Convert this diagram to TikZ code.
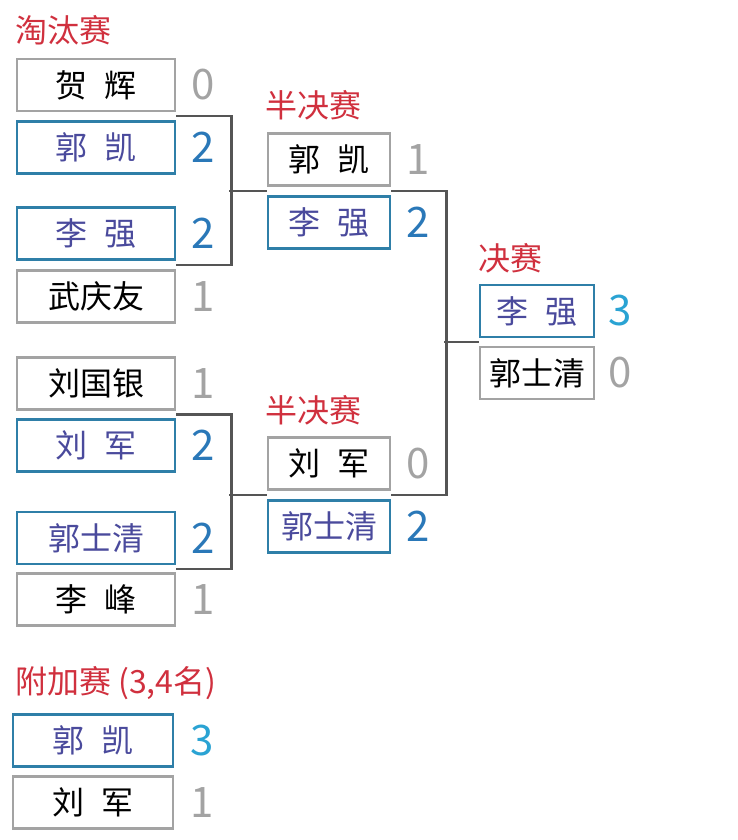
\documentclass[tikz,border=0pt]{standalone}
\usepackage{fontspec}
\setmainfont{Noto Sans CJK SC}
\usetikzlibrary{calc}

\definecolor{losegray}{HTML}{A3A3A3}
\definecolor{winblue}{HTML}{2F7FA8}
\definecolor{winname}{HTML}{4A4A9C}
\definecolor{scoreblue}{HTML}{2A78B8}
\definecolor{champblue}{HTML}{2AA3D3}
\definecolor{roundred}{HTML}{D0303E}
\definecolor{linegray}{HTML}{555555}

\newcommand{\gap}{\hspace{0.55em}}

\begin{document}
\begin{tikzpicture}
  [x=1pt,y=-1pt,
   every node/.style={inner sep=0pt,font=\fontsize{32}{33}\selectfont},
   player/.style={draw,line width=2.5pt,minimum height=52pt},
   lose/.style={player,draw=losegray,text=black},
   win/.style={player,draw=winblue,text=winname},
   score/.style={font=\fontsize{42}{42}\selectfont,text=losegray},
   wscore/.style={score,text=scoreblue},
   roundname/.style={anchor=west,text=roundred},
   bracket/.style={draw=linegray,line width=2.5pt}]
  \useasboundingbox (0,0) rectangle (737,840);

  % first round
  \node[roundname] (r1) at (15,30) {淘汰赛};
  \node[lose,minimum width=158pt] (he)   at (96,85)    {贺\gap 辉};
  \node[win, minimum width=158pt] (guo1) at (96,147.5) {郭\gap 凯};
  \node[win, minimum width=158pt] (li1)  at (96,233.5) {李\gap 强};
  \node[lose,minimum width=158pt] (wu)   at (96,296.5) {武庆友};
  \node[lose,minimum width=158pt] (liug) at (96,383.5) {刘国银};
  \node[win, minimum width=158pt] (liu1) at (96,445.5) {刘\gap 军};
  \node[win, minimum width=158pt] (gsq1) at (96,538)   {郭士清};
  \node[lose,minimum width=158pt] (lif)  at (96,599.5) {李\gap 峰};
  \node[score]  (he-s)   at (203,85)    {0};
  \node[wscore] (guo1-s) at (203,147.5) {2};
  \node[wscore] (li1-s)  at (203,233.5) {2};
  \node[score]  (wu-s)   at (203,296.5) {1};
  \node[score]  (liug-s) at (203,383.5) {1};
  \node[wscore] (liu1-s) at (203,445.5) {2};
  \node[wscore] (gsq1-s) at (203,538)   {2};
  \node[score]  (lif-s)  at (203,599.5) {1};

  % semifinals
  \node[roundname] (r2) at (265,105) {半决赛};
  \node[lose,minimum width=122pt] (guo2) at (329,159.5) {郭\gap 凯};
  \node[win, minimum width=122pt] (li2)  at (329,222.5) {李\gap 强};
  \node[score]  (guo2-s) at (418,159.5) {1};
  \node[wscore] (li2-s)  at (418,222.5) {2};
  \node[roundname] (r3) at (265,410) {半决赛};
  \node[lose,minimum width=122pt] (liu2) at (329,463.5) {刘\gap 军};
  \node[win, minimum width=122pt] (gsq2) at (329,526.5) {郭士清};
  \node[score]  (liu2-s) at (418,463.5) {0};
  \node[wscore] (gsq2-s) at (418,526.5) {2};

  % final
  \node[roundname] (r4) at (478,258) {决赛};
  \node[win, minimum width=114pt] (li3)  at (537,311) {李\gap 强};
  \node[lose,minimum width=114pt] (gsq3) at (537,373) {郭士清};
  \node[score,text=champblue] (li3-s) at (620,311) {3};
  \node[score] (gsq3-s) at (620,373) {0};

  % third place
  \node[roundname] (r5) at (15,683) {附加赛 (3,4名)};
  \node[win, minimum width=160pt] (guo3) at (93,740.5) {郭\gap 凯};
  \node[lose,minimum width=160pt] (liu3) at (93,802.5) {刘\gap 军};
  \node[score,text=champblue] (guo3-s) at (202,740.5) {3};
  \node[score] (liu3-s) at (202,802.5) {1};

  % brackets
  \draw[bracket] ($(he.south east)!.5!(guo1.north east)$) -- ++(55,0)
    |- ($(li1.south east)!.5!(wu.north east)$);
  \draw[bracket] ($(guo2.south west)!.5!(li2.north west)$) -- ++(-38,0);
  \draw[bracket] ($(liug.south east)!.5!(liu1.north east)$) -- ++(55,0)
    |- ($(gsq1.south east)!.5!(lif.north east)$);
  \draw[bracket] ($(liu2.south west)!.5!(gsq2.north west)$) -- ++(-38,0);
  \draw[bracket] ($(guo2.south east)!.5!(li2.north east)$) -- ++(55,0)
    |- ($(liu2.south east)!.5!(gsq2.north east)$);
  \draw[bracket] ($(li3.south west)!.5!(gsq3.north west)$) -- ++(-35,0);
\end{tikzpicture}
\end{document}
